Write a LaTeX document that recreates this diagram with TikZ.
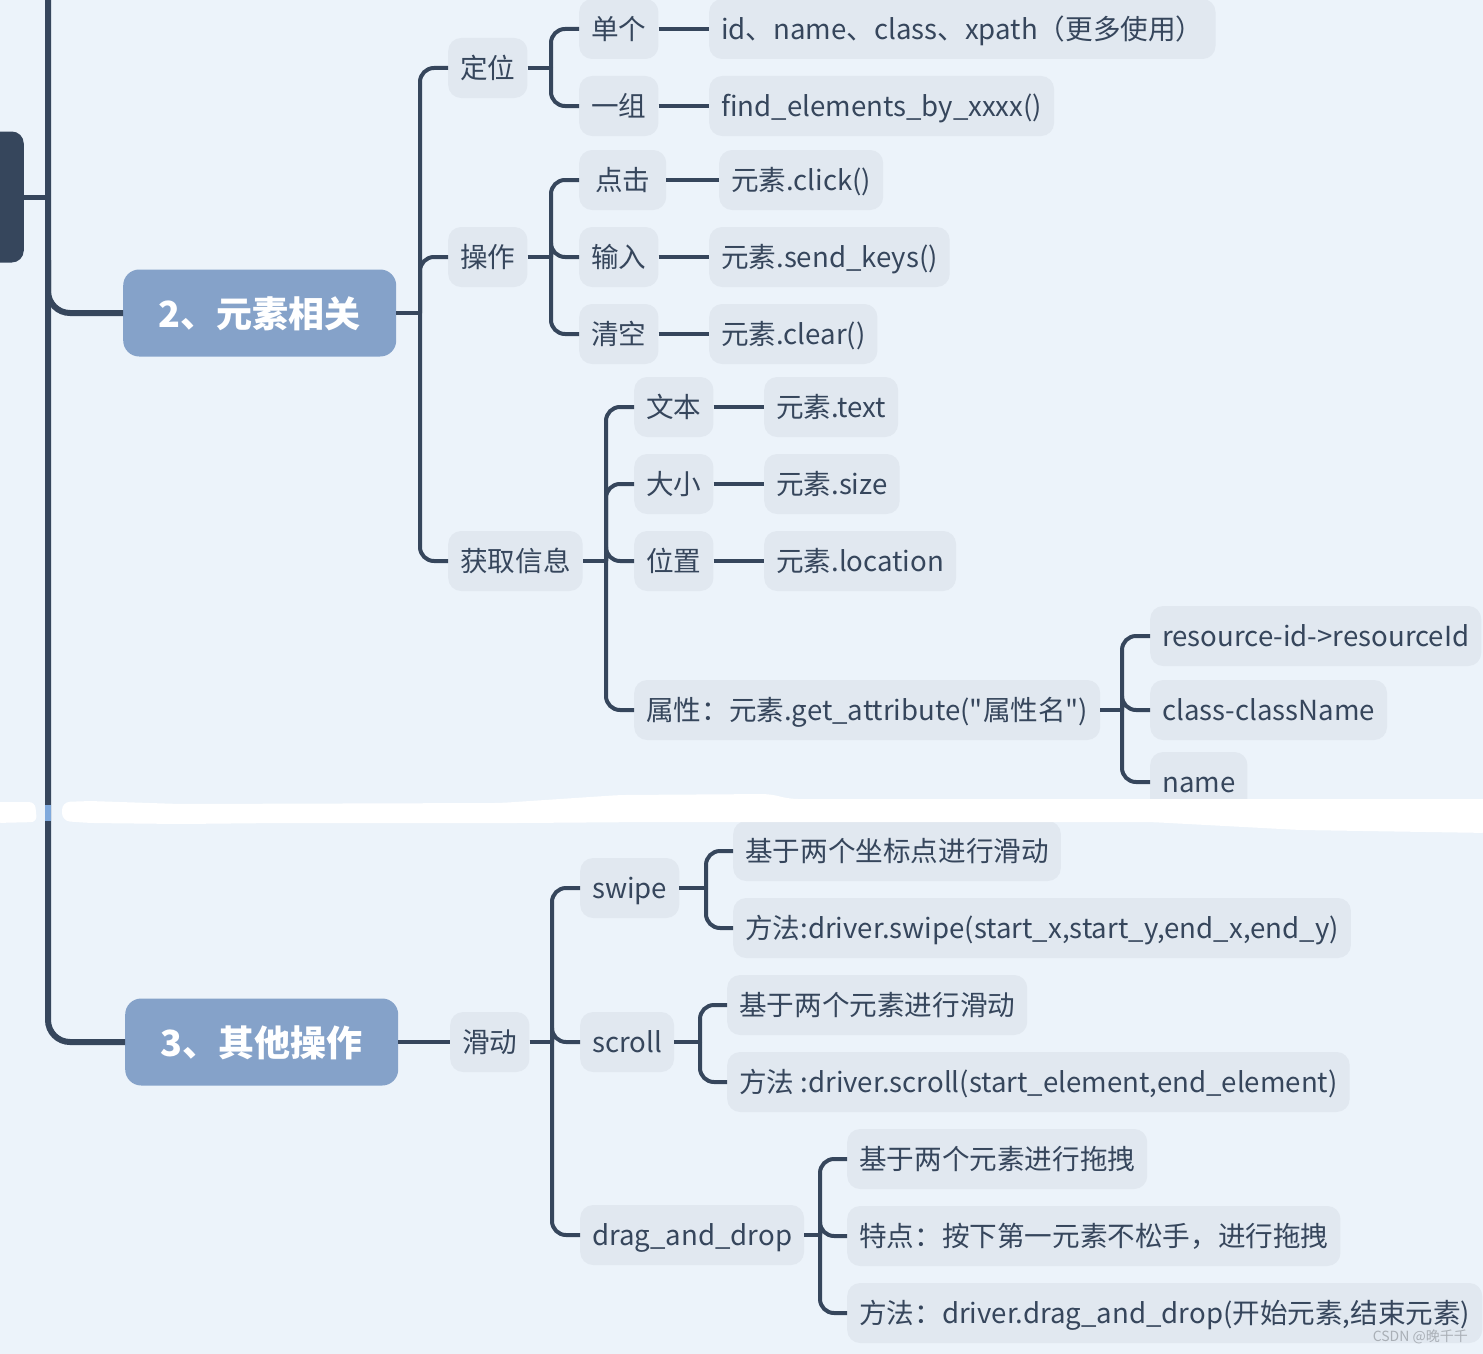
\documentclass[tikz,border=0pt]{standalone}
\usepackage{fontspec}
\setmainfont{Noto Sans CJK SC}[Ligatures=TeXOff]
\definecolor{bg}{HTML}{ECF3FA}
\definecolor{nf}{HTML}{E1E8F0}
\definecolor{ln}{HTML}{36465C}
\definecolor{mainf}{HTML}{85A2C9}
\definecolor{wm}{HTML}{A9AFB6}
\definecolor{gapblue}{HTML}{7FA9DC}
\begin{document}
\begin{tikzpicture}[x=1pt,y=-1pt,
 leaf/.style={fill=nf, rounded corners=13pt, inner xsep=12pt, inner ysep=0pt, minimum height=60pt, text height=25pt, text depth=4pt, anchor=west, text=ln, font=\fontsize{27.6}{32}\selectfont},
 mainbox/.style={fill=mainf, rounded corners=16pt, minimum width=273pt, minimum height=87pt, text height=32pt, text depth=4pt, text=white, font=\fontsize{36}{40}\selectfont\bfseries, anchor=west},
 conn/.style={draw=ln, line width=4pt, rounded corners=14pt},
 trunk/.style={draw=ln, line width=6pt, rounded corners=22pt}]
\useasboundingbox (0,0) rectangle (1483,1354);
\fill[bg] (0,0) rectangle (1483,1354);

% root and trunk
\node[fill=ln, rounded corners=12pt, minimum width=50pt, minimum height=131pt, anchor=east] (root) at (24,197) {};
\node[mainbox] (m2) at (123,313) {2、元素相关};
\node[mainbox] (m3) at (125,1042) {3、其他操作};
\coordinate (t0) at (48,-10);
\coordinate (t1) at (48,260);
\coordinate (t2) at (48,1042);
\draw[line width=5pt, ln] (root.east) -- (48,197);
\draw[trunk] (t0) -- (t2) -- (m3.west);
\draw[trunk] (t1) |- (m2.west);

% level 2
\node[leaf] (dw) at (448,68) {定位};
\node[leaf] (cz) at (448,257) {操作};
\node[leaf] (hq) at (448,561) {获取信息};
\node[leaf] (hd) at (450,1042) {滑动};

% level 3
\node[leaf] (dg) at (579,29) {单个};
\node[leaf] (yz) at (579,106) {一组};
\node[leaf, minimum width=87pt] (dj) at (579,180) {点击};
\node[leaf] (sr) at (579,257) {输入};
\node[leaf] (qk) at (579,334) {清空};
\node[leaf] (wb) at (634,407) {文本};
\node[leaf] (dx) at (634,484) {大小};
\node[leaf] (wz) at (634,561) {位置};
\node[leaf] (sx) at (634,710) {属性：元素.get\_attribute("属性名")};
\node[leaf] (sw) at (580,888) {swipe};
\node[leaf] (sc) at (580,1042) {scroll};
\node[leaf] (dd) at (580,1235) {drag\_and\_drop};

% level 4
\node[leaf] (l1) at (709,29) {id、name、class、xpath（更多使用）};
\node[leaf] (l2) at (709,106) {find\_elements\_by\_xxxx()};
\node[leaf] (l3) at (719,180) {元素.click()};
\node[leaf] (l4) at (709,257) {元素.send\_keys()};
\node[leaf] (l5) at (709,334) {元素.clear()};
\node[leaf] (l6) at (764,407) {元素.text};
\node[leaf] (l7) at (764,484) {元素.size};
\node[leaf] (l8) at (764,561) {元素.location};
\node[leaf] (a1) at (1150,636) {resource-id->resourceId};
\node[leaf] (a2) at (1150,710) {class-className};
\node[leaf] (a3) at (1150,782) {name};
\node[leaf] (s1) at (733,851) {基于两个坐标点进行滑动};
\node[leaf] (s2) at (733,928) {方法:driver.swipe(start\_x,start\_y,end\_x,end\_y)};
\node[leaf] (c1) at (727,1005) {基于两个元素进行滑动};
\node[leaf] (c2) at (727,1082) {方法 :driver.scroll(start\_element,end\_element)};
\node[leaf] (d1) at (847,1159) {基于两个元素进行拖拽};
\node[leaf] (d2) at (847,1236) {特点：按下第一元素不松手，进行拖拽};
\node[leaf] (d3) at (847,1313) {方法：driver.drag\_and\_drop(开始元素,结束元素)};

% junctions
\coordinate (j5) at (420,313);
\coordinate (j1) at (551,68);
\coordinate (j2) at (551,257);
\coordinate (j3) at (606,561);
\coordinate (j4) at (1122,710);
\coordinate (j6) at (552,1042);
\coordinate (j7) at (706,888);
\coordinate (j8) at (700,1042);
\coordinate (j9) at (820,1235);

% connectors
\draw[conn] (m2.east) -- (j5);
\draw[conn] (j5) |- (dw.west);
\draw[conn] (j5) |- (cz.west);
\draw[conn] (j5) |- (hq.west);

\draw[conn] (dw.east) -- (j1);
\draw[conn] (j1) |- (dg.west);
\draw[conn] (j1) |- (yz.west);
\draw[conn] (cz.east) -- (j2);
\draw[conn] (j2) |- (dj.west);
\draw[conn] (j2) |- (sr.west);
\draw[conn] (j2) |- (qk.west);
\draw[conn] (hq.east) -- (j3);
\draw[conn] (j3) |- (wb.west);
\draw[conn] (j3) |- (dx.west);
\draw[conn] (j3) |- (wz.west);
\draw[conn] (j3) |- (sx.west);

\draw[conn] (dg.east) -- (l1.west);
\draw[conn] (yz.east) -- (l2.west);
\draw[conn] (dj.east) -- (l3.west);
\draw[conn] (sr.east) -- (l4.west);
\draw[conn] (qk.east) -- (l5.west);
\draw[conn] (wb.east) -- (l6.west);
\draw[conn] (dx.east) -- (l7.west);
\draw[conn] (wz.east) -- (l8.west);

\draw[conn] (sx.east) -- (j4);
\draw[conn] (j4) |- (a1.west);
\draw[conn] (j4) |- (a2.west);
\draw[conn] (j4) |- (a3.west);

\draw[conn] (m3.east) -- (hd.west);
\draw[conn] (hd.east) -- (j6);
\draw[conn] (j6) |- (sw.west);
\draw[conn] (j6) |- (sc.west);
\draw[conn] (j6) |- (dd.west);
\draw[conn] (sw.east) -- (j7);
\draw[conn] (j7) |- (s1.west);
\draw[conn] (j7) |- (s2.west);
\draw[conn] (sc.east) -- (j8);
\draw[conn] (j8) |- (c1.west);
\draw[conn] (j8) |- (c2.west);
\draw[conn] (dd.east) -- (j9);
\draw[conn] (j9) |- (d1.west);
\draw[conn] (j9) |- (d2.west);
\draw[conn] (j9) |- (d3.west);

% white brush stroke
\fill[white, rounded corners=6pt] (-5,802) -- (35,802) -- (37,822) -- (-5,823) -- cycle;
\fill[gapblue] (45,805) rectangle (51,821);
\fill[white, rounded corners=8pt] (62,802) -- (90,801) -- (180,804) -- (500,803) -- (560,799) -- (620,795) -- (770,794) -- (790,799) -- (1490,799) -- (1490,833) -- (1300,830) -- (1150,822) -- (650,822) -- (520,823) -- (280,823) -- (180,824) -- (90,823) -- (62,821) -- cycle;

% watermark
\node[anchor=east, text=wm, font=\fontsize{14}{16}\selectfont, inner sep=0pt] (wmk) at (1468,1337) {CSDN @晚千千};
\end{tikzpicture}
\end{document}
